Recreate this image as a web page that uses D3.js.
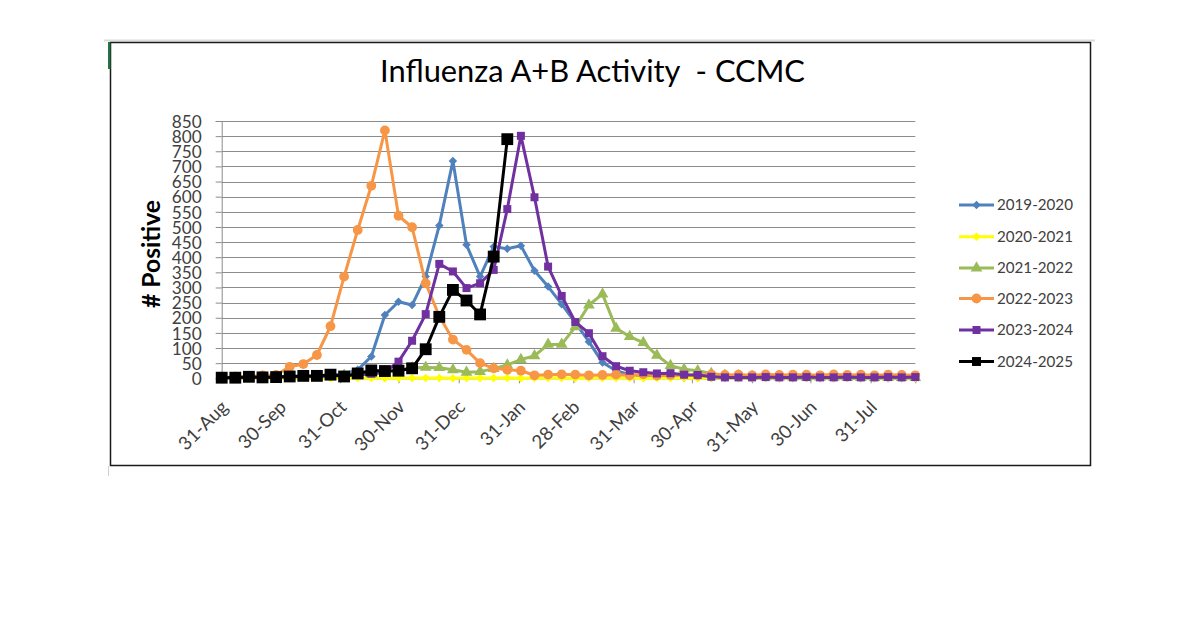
<!DOCTYPE html>
<html>
<head>
<meta charset="utf-8">
<script src="https://cdn.jsdelivr.net/npm/d3@7"></script>
<style>
  html, body { margin: 0; padding: 0; background: #fff; }
  svg { display: block; }
  text { font-family: Lato, "Liberation Sans", sans-serif; }
</style>
</head>
<body>
<svg id="chart" width="1200" height="630"></svg>
<script>
// ---------------- data ----------------
const seriesNames = ["2019-2020", "2020-2021", "2021-2022", "2022-2023", "2023-2024", "2024-2025"];

// weekly values, week 0 = 31-Aug
const s2019 = [3,2,3,4,5,5,6,8,10,15,28,72,209,253,242,336,505,718,441,336,435,428,438,355,303,245,184,121,52,25,12,8,5,3,2,2,1,1,1,0,1,0,0,1,0,0,1,0,0,0,0,0];
const s2020 = [1,1,0,1,1,0,1,1,0,1,1,1,0,1,1,1,1,0,1,1,1,1,0,1,1,1,0,1,1,1,1,0,1,1,1,0,1,1,0,1,1,0,1,1,1,0,1,1,0,1,1,0];
const s2021 = [2,2,3,3,3,4,5,5,8,10,12,15,20,28,35,36,35,28,20,22,32,44,62,74,112,112,170,242,278,165,138,118,76,42,30,25,16,10,8,6,5,4,4,3,3,3,2,2,2,2,2,2];
const s2022 = [3,5,5,10,11,38,47,77,172,336,490,636,819,537,499,314,205,128,94,50,33,28,25,10,12,13,12,10,11,12,10,13,9,11,12,10,13,11,12,10,13,11,12,12,10,13,11,12,10,12,11,10];
const s2023 = [3,2,3,3,4,5,6,6,8,10,12,15,20,55,124,212,378,353,298,314,358,559,801,598,369,272,186,149,73,40,25,20,16,17,12,11,5,3,3,3,4,3,3,4,3,3,4,3,3,4,3,4];
const s2024 = [2,2,5,3,4,6,8,8,12,6,16,26,24,25,33,96,203,292,257,211,402,790];

const weekLength = 7;          // days between points
const lastDay = 357;           // day offset of last weekly point
const tickLabels = ["31-Aug","30-Sep","31-Oct","30-Nov","31-Dec","31-Jan","28-Feb","31-Mar","30-Apr","31-May","30-Jun","31-Jul"];
const tickDays   = [0, 30, 61, 91, 122, 153, 181, 212, 242, 273, 303, 334];
const yTicks = d3.range(0, 851, 50);

const seriesValues = [s2019, s2020, s2021, s2022, s2023, s2024];
const seriesColors = ["#4F81BD", "#FFFF00", "#9BBB59", "#F79646", "#7030A0", "#000000"];

// ---------------- helpers ----------------
const svg = d3.select("#chart");
function fitFont(sampleText, targetWidth, weight) {
  const t = svg.append("text").attr("font-size", 20).attr("font-weight", weight || "normal")
    .style("white-space", "pre").text(sampleText);
  const w = t.node().getComputedTextLength();
  t.remove();
  return w > 0 ? 20 * targetWidth / w : 18;
}

// ---------------- layout ----------------
const plot = { left: 221.7, right: 915.3, top: 121, bottom: 378.3 };
const x = d3.scaleLinear().domain([0, lastDay]).range([plot.left, plot.right]);
const y = d3.scaleLinear().domain([0, 850]).range([plot.bottom, plot.top]);

// page decorations (spreadsheet frame)
svg.append("line").attr("x1", 104).attr("x2", 1095).attr("y1", 40.5).attr("y2", 40.5)
  .attr("stroke", "#dcdcdc").attr("stroke-width", 2);
svg.append("line").attr("x1", 108.5).attr("x2", 108.5).attr("y1", 466).attr("y2", 476)
  .attr("stroke", "#d0d0d0").attr("stroke-width", 1);
svg.append("rect").attr("x", 110.5).attr("y", 42.5).attr("width", 980).attr("height", 423)
  .attr("fill", "#fff").attr("stroke", "#1a1a1a").attr("stroke-width", 1.5);
svg.append("rect").attr("x", 108).attr("y", 42).attr("width", 2.5).attr("height", 27).attr("fill", "#217346");

// title
const titleText = "Influenza A+B Activity  - CCMC";
svg.append("text")
  .attr("x", 592.5).attr("y", 82).attr("text-anchor", "middle")
  .attr("fill", "#000").attr("font-size", fitFont(titleText, 425))
  .style("white-space", "pre")
  .text(titleText);

// gridlines
svg.append("g").selectAll("line").data(yTicks.filter(d => d > 0)).join("line")
  .attr("x1", plot.left).attr("x2", plot.right)
  .attr("y1", d => Math.round(y(d)) + 0.5).attr("y2", d => Math.round(y(d)) + 0.5)
  .attr("stroke", "#8c8c8c").attr("stroke-width", 1);

// y axis
const yFont = fitFont("850", 30);
const yAxis = svg.append("g").attr("transform", `translate(${plot.left},0)`)
  .call(d3.axisLeft(y).tickValues(yTicks).tickSize(6).tickFormat(d3.format("d")));
yAxis.select(".domain").attr("stroke", "#8c8c8c");
yAxis.selectAll(".tick line").attr("stroke", "#8c8c8c");
yAxis.selectAll(".tick text").attr("font-size", yFont).attr("fill", "#404040")
  .attr("font-family", "Lato, 'Liberation Sans', sans-serif")
  .attr("x", -20).attr("dy", "0.36em");

// x axis
const xFont = fitFont("31-Aug", 61);
const xAxis = svg.append("g").attr("transform", `translate(0,${plot.bottom})`)
  .call(d3.axisBottom(x).tickValues(tickDays).tickSize(5).tickFormat((d, i) => tickLabels[i]));
xAxis.select(".domain").attr("stroke", "#8c8c8c");
xAxis.selectAll(".tick line").attr("stroke", "#8c8c8c");
xAxis.selectAll(".tick text")
  .attr("font-size", xFont).attr("fill", "#404040")
  .attr("font-family", "Lato, 'Liberation Sans', sans-serif")
  .attr("text-anchor", "end")
  .attr("x", 0).attr("y", 0).attr("dy", 0)
  .attr("transform", "translate(7,30) rotate(-45)");

// y label
svg.append("text")
  .attr("transform", "translate(160,254) rotate(-90)")
  .attr("text-anchor", "middle").attr("font-size", fitFont("# Positive", 108, "bold")).attr("font-weight", "bold")
  .attr("fill", "#000").text("# Positive");

// marker shapes
const diamondType = { draw(ctx, size) { const r = Math.sqrt(size) / 2 * 1.2; ctx.moveTo(0, -r); ctx.lineTo(r, 0); ctx.lineTo(0, r); ctx.lineTo(-r, 0); ctx.closePath(); } };
const markerTypes = [diamondType, diamondType, d3.symbolTriangle, d3.symbolCircle, d3.symbolSquare, d3.symbolSquare];
const markerSizes = [50, 50, 60, 75, 64, 140];

const line = d3.line().x((d, i) => x(i * weekLength)).y(d => y(d));

seriesValues.forEach((vals, k) => {
  const g = svg.append("g");
  g.append("path").datum(vals).attr("d", line)
    .attr("fill", "none").attr("stroke", seriesColors[k]).attr("stroke-width", 3)
    .attr("stroke-linejoin", "round");
  g.selectAll("path.m").data(vals).join("path").attr("class", "m")
    .attr("transform", (d, i) => `translate(${x(i * weekLength)},${y(d)})`)
    .attr("d", d3.symbol().type(markerTypes[k]).size(markerSizes[k]))
    .attr("fill", seriesColors[k]);
});

// legend
const legendRows = [205, 236.7, 268, 298.5, 330, 361.5];
const legendFont = fitFont("2019-2020", 76);
const lg = svg.append("g");
seriesNames.forEach((name, k) => {
  const yy = legendRows[k];
  lg.append("line").attr("x1", 959).attr("x2", 994).attr("y1", yy).attr("y2", yy)
    .attr("stroke", seriesColors[k]).attr("stroke-width", 3);
  lg.append("path").attr("transform", `translate(976.5,${yy})`)
    .attr("d", d3.symbol().type(markerTypes[k]).size(k === 5 ? 80 : markerSizes[k]))
    .attr("fill", seriesColors[k]);
  lg.append("text").attr("x", 997).attr("y", yy).attr("dy", "0.35em")
    .attr("font-size", legendFont).attr("fill", "#404040").text(name);
});
</script>
</body>
</html>
